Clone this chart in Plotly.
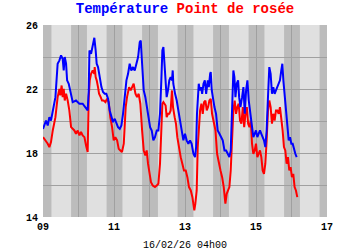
import plotly.graph_objects as go

# Hours elapsed since 09/02 00h00
temp_hours = [0.0, 2.05, 3.2, 4.3, 5.4, 6.6, 8.4, 9.9, 11.1, 12.2, 13.3, 14.0, 14.7, 15.6, 16.3, 17.4, 19.0, 20.1,
              22.3, 24.6, 26.8, 28.6, 30.2, 30.9, 31.4, 32.5, 33.6, 34.7,
              35.6, 36.3, 37.2, 37.9, 38.6, 39.5, 40.6, 41.7, 42.8, 44.0, 45.1, 46.2, 47.3, 48.5, 49.6, 50.7,
              51.9, 53.0, 54.1, 55.2, 56.4, 57.5, 58.6, 59.7, 60.9, 62.0, 63.1, 64.3, 65.4, 66.1, 67.0, 68.1,
              69.2, 70.1,
              71.2, 72.4, 73.5, 74.6, 75.7, 76.9, 78.0, 79.1, 80.0, 80.7, 81.4, 82.0, 82.7, 83.6, 84.5, 85.4,
              86.3, 87.2, 87.7, 88.1, 89.3, 90.4, 91.5, 92.6, 93.8, 94.9, 96.0, 97.1, 98.3, 99.4, 100.5, 101.7,
              102.8, 103.5, 104.1, 104.8, 105.3,
              106.0, 106.9, 107.6, 108.5, 109.4, 110.3, 111.4, 112.1, 113.0, 113.4, 114.1, 115.0, 115.9, 117.0,
              118.1, 119.3, 120.4, 121.5, 122.7, 123.8, 124.9, 126.0, 126.9, 127.8, 128.7, 129.4, 130.1, 131.0,
              131.9, 132.6, 133.5, 134.6, 135.5, 136.4, 137.3, 138.2, 139.1, 140.5,
              141.3, 142.2, 143.1, 144.0, 144.9, 145.8, 146.7, 147.6, 148.5, 149.4, 150.3, 151.2, 152.1, 153.0,
              153.9, 154.8, 155.7, 156.6, 157.5, 158.4, 159.3, 160.2, 161.1, 161.8, 162.5, 163.4, 164.3, 165.2,
              166.1, 167.0, 167.9, 168.8, 169.7, 170.6, 171.5]
temperature = [19.5, 20.03, 19.72, 20.24, 20.03, 20.66, 21.49, 23.58, 23.79, 24.1, 23.89, 23.16, 24.0, 23.58, 22.54,
               22.33, 21.49, 21.18, 21.28, 21.08, 21.08, 20.87, 20.66, 21.91, 24.41, 24.2, 24.83, 25.2,
               24.41, 23.58, 23.37, 22.95, 22.54, 22.12, 21.81, 21.7, 21.7, 21.39, 20.66, 20.24, 19.93, 20.14,
               19.83, 19.62, 19.51, 19.72, 20.45, 21.49, 22.54, 22.95, 23.58, 23.16, 23.37, 23.16, 23.58, 24.0,
               24.93, 25.03, 23.58, 21.91, 21.49, 20.87,
               20.24, 19.62, 19.41, 18.79, 18.99, 19.41, 19.41, 20.45, 22.54, 24.41, 24.62, 23.79, 22.95, 21.49,
               21.91, 22.54, 22.74, 22.54, 23.16, 22.33, 21.7, 21.28, 20.66, 20.03, 19.41, 18.79, 19.2, 18.79,
               18.58, 18.79, 18.58, 17.95, 17.74, 18.37, 20.45, 22.12, 22.33,
               21.91, 22.12, 21.7, 22.33, 22.54, 21.7, 22.54, 22.12, 22.95, 23.06, 21.91, 21.28, 20.87, 20.45,
               19.41, 19.2, 18.99, 18.79, 18.16, 18.16, 17.95, 17.74, 18.16, 20.45, 23.16, 22.74, 21.49, 22.33,
               22.54, 21.49, 20.87, 21.49, 22.12, 20.45, 21.91, 22.54, 21.28, 20.24,
               19.41, 18.99, 19.2, 19.41, 18.99, 19.2, 19.41, 19.2, 18.99, 18.79, 18.37, 19.41, 21.49, 23.37,
               22.95, 21.7, 22.12, 21.7, 21.91, 22.12, 22.33, 22.54, 23.16, 23.58, 22.54, 21.49, 20.45, 19.41,
               18.79, 18.99, 18.58, 18.58, 18.16, 17.95, 17.74]

dew_hours = [0.0, 1.6, 3.2, 4.3, 5.4, 6.6, 8.4, 9.9, 11.1, 11.7, 12.6, 13.3, 14.0, 14.7, 15.6, 16.7, 17.8, 19.0,
             20.1, 21.2, 22.3, 23.5, 24.6, 25.7, 26.8, 28.0, 29.1, 30.2, 30.9, 31.6, 32.5, 33.6, 34.7,
             34.95, 35.6, 36.3, 37.2, 37.9, 39.0, 39.9, 41.0, 42.2, 43.3, 44.4, 45.5, 46.7, 47.8, 48.9, 50.1,
             51.2, 52.3, 53.4, 54.6, 55.2, 55.9, 56.8, 58.2, 59.3, 60.2, 61.3, 62.5, 63.6, 64.7, 65.8, 67.0,
             68.1, 69.2, 70.1,
             71.0, 71.9, 73.0, 74.2, 75.7, 76.9, 78.0, 79.1, 80.0, 80.7, 81.4, 82.0, 82.9, 83.6, 84.5, 85.4,
             86.3, 87.2, 87.9, 89.0, 89.9, 90.8, 92.0, 93.1, 94.2, 95.3, 96.5, 97.6, 98.7, 99.9, 101.0, 101.7,
             102.3, 103.0, 103.9, 104.6, 105.3,
             106.2, 107.1, 108.0, 108.9, 109.8, 110.7, 111.6, 112.5, 113.4, 114.3, 115.4, 116.6, 117.7, 118.8,
             120.0, 121.1, 122.2, 123.3, 124.2, 125.1, 126.0, 126.9, 127.8, 128.7, 129.6, 130.5, 131.4, 132.3,
             133.2, 134.1, 135.1, 136.0, 136.9, 137.8, 138.7, 139.6, 140.5,
             141.3, 142.2, 143.1, 144.0, 144.9, 145.8, 146.7, 147.6, 148.5, 149.4, 150.3, 151.2, 152.1, 153.0,
             153.9, 154.8, 155.7, 156.6, 157.5, 158.4, 159.3, 160.2, 161.1, 162.0, 162.9, 163.8, 164.7, 165.6,
             166.5, 167.4, 168.3, 169.2, 170.1, 171.0, 171.9]
dew_point = [18.99, 18.79, 18.58, 18.37, 18.68, 19.41, 20.24, 21.49, 22.01, 21.6, 22.22, 21.49, 22.01, 21.28, 21.7,
             21.28, 20.66, 19.62, 19.51, 19.41, 19.2, 19.41, 19.1, 19.31, 19.1, 18.99, 18.47, 18.06, 21.49, 22.54,
             22.95, 23.16, 22.95,
             23.37, 22.74, 22.54, 22.12, 21.7, 21.49, 21.28, 21.28, 21.18, 21.39, 21.18, 20.24, 19.62, 18.79,
             18.99, 18.79, 18.26, 18.16, 18.06, 18.58, 19.83, 20.87, 21.49, 22.12, 21.91, 22.12, 22.33, 21.7,
             21.49, 21.7, 21.08, 19.41, 18.16, 17.85, 18.16,
             17.33, 16.7, 16.18, 15.97, 15.87, 15.97, 16.08, 17.33, 19.41, 21.08, 21.18, 21.08, 20.97, 20.24,
             20.45, 20.45, 20.66, 21.91, 20.87, 20.24, 19.83, 18.99, 18.16, 17.74, 17.33, 16.91, 16.91, 16.49,
             15.87, 15.66, 15.24, 14.83, 14.41, 14.83, 15.66, 18.37, 19.83,
             20.66, 21.08, 20.45, 21.18, 21.28, 20.66, 20.87, 21.28, 21.39, 20.45, 20.03, 19.41, 17.95, 17.33,
             16.91, 16.49, 15.87, 14.83, 15.45, 15.66, 15.87, 16.91, 19.41, 20.66, 21.28, 20.45, 20.87, 21.08,
             20.03, 19.83, 20.87, 19.62, 20.45, 20.87, 19.83, 19.62, 20.03,
             18.58, 17.95, 18.16, 18.58, 17.74, 17.95, 18.16, 17.74, 16.91, 16.7, 17.33, 18.79, 20.66, 21.28,
             20.87, 19.83, 20.45, 20.03, 20.66, 20.66, 20.45, 20.87, 20.24, 19.41, 18.37, 18.16, 17.33, 17.74,
             16.91, 17.12, 16.49, 16.7, 15.87, 15.66, 15.24]

days = [9, 10, 11, 12, 13, 14, 15, 16, 17]
day_labels = ["09", "", "11", "", "13", "", "15", "", "17"]
y_vals = [14, 16, 18, 20, 22, 24, 26]
y_labels = ["14", "", "18", "", "22", "", "26"]
sunrise_h = 5.7
sunset_h = 19.0
footer = "16/02/26 04h00"

START_DAY = 9
tx = [START_DAY + h / 24 for h in temp_hours]
dx = [START_DAY + h / 24 for h in dew_hours]

fig = go.Figure()
fig.add_trace(go.Scatter(x=dx, y=dew_point, mode="lines", line=dict(color="#ff0000", width=2),
                         name="Point de rosée", hoverinfo="skip"))
fig.add_trace(go.Scatter(x=tx, y=temperature, mode="lines", line=dict(color="#0000ff", width=2),
                         name="Température", hoverinfo="skip"))

shapes = []
for d in days[:-1]:
    shapes.append(dict(type="rect", xref="x", yref="paper", x0=d + sunrise_h / 24, x1=d + sunset_h / 24,
                       y0=0, y1=1, fillcolor="#e0e0e0", line=dict(width=0), layer="below"))

mono = "Liberation Mono"
fig.update_layout(
    width=350, height=250,
    margin=dict(l=43, r=23, t=25, b=33),
    paper_bgcolor="white", plot_bgcolor="#bcbcbc",
    showlegend=False,
    shapes=shapes,
    title=dict(
        text='<span style="color:#0000ff">Température</span> <span style="color:#ff0000">Point de rosée</span>',
        x=0.5, xanchor="center", xref="paper", y=1 - 8.5 / 250, yanchor="middle", yref="container",
        font=dict(family=mono, size=14, weight="bold"),
    ),
    xaxis=dict(range=[9, 17], tickvals=days, ticktext=day_labels, showgrid=True, gridcolor="#a0a0a0",
               gridwidth=1, zeroline=False, ticks="", ticklabelstandoff=2,
               tickfont=dict(family=mono, size=10, color="black", weight="bold"),
               showline=False, fixedrange=True),
    yaxis=dict(range=[14, 26], tickvals=y_vals, ticktext=y_labels, showgrid=True, gridcolor="#a0a0a0",
               gridwidth=1, zeroline=False, ticks="", ticklabelstandoff=4,
               tickfont=dict(family=mono, size=10, color="black", weight="bold"),
               showline=False, fixedrange=True),
    annotations=[dict(text=footer, xref="paper", yref="paper", x=0.5, y=0, yshift=-28, xanchor="center",
                      yanchor="middle", showarrow=False, font=dict(family=mono, size=10, color="black"))],
)

fig.write_html("out.html", config={"displayModeBar": False})
